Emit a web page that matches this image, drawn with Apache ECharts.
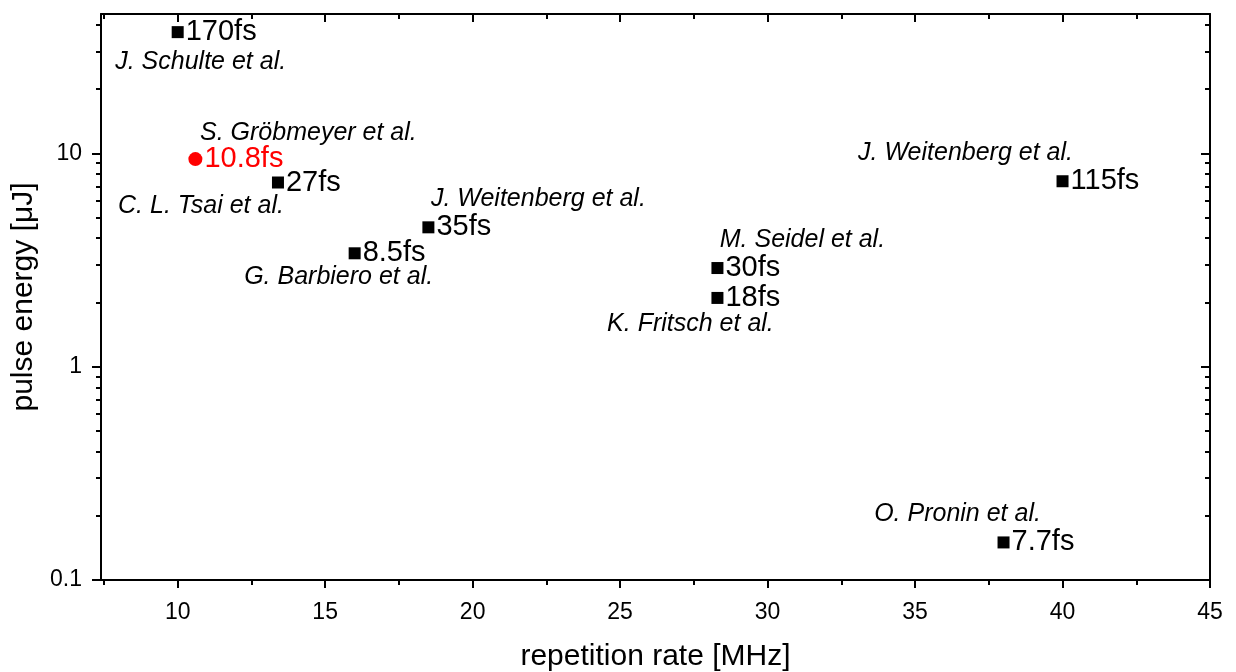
<!DOCTYPE html>
<html>
<head>
<meta charset="utf-8">
<script src="https://cdn.jsdelivr.net/npm/echarts@6/dist/echarts.min.js"></script>
<style>
  html, body { margin: 0; padding: 0; background: #fff; }
  #chart { width: 1236px; height: 672px; }
</style>
</head>
<body>
<div id="chart"></div>
<script>
// Published few-cycle / femtosecond sources: repetition rate vs. pulse energy
const repRate = [10, 13.4, 16, 18.5, 28.3, 28.3, 40, 38];          // MHz
const pulseEnergy = [37, 7.3, 3.4, 4.5, 2.9, 2.1, 7.4, 0.15];      // µJ
const pulseDuration = ['170fs', '27fs', '8.5fs', '35fs', '30fs', '18fs', '115fs', '7.7fs'];
const authors = ['J. Schulte et al.', 'C. L. Tsai et al.', 'G. Barbiero et al.', 'J. Weitenberg et al.',
                 'M. Seidel et al.', 'K. Fritsch et al.', 'J. Weitenberg et al.', 'O. Pronin et al.'];

// This work
const ownRepRate = [10.6];
const ownEnergy = [9.4];
const ownDuration = ['10.8fs'];
const ownAuthor = ['S. Gröbmeyer et al.'];

// Axis ticks
const xMajorTicks = [10, 15, 20, 25, 30, 35, 40, 45];
const xMinorTicks = [7.5, 12.5, 17.5, 22.5, 27.5, 32.5, 37.5, 42.5];
const yMajorTicks = [0.1, 1, 10];
const yMinorTicks = [0.2, 0.3, 0.4, 0.5, 0.6, 0.7, 0.8, 0.9, 2, 3, 4, 5, 6, 7, 8, 9, 20, 30, 40];

// Author caption placement (pixel offset of the caption centre from its point)
const authorOffsets = [[23, 30], [-77, 24], [-16, 24], [110, -28], [85, -28], [-27, 26], [-97, -28], [-46, -28]];
const ownAuthorOffset = [113, -26];

const FONT = '"Liberation Sans", Arial, sans-serif';
const X_RANGE = { min: 7.4, max: 45 };
const Y_RANGE = { min: 0.1, max: 45 };

function xAxisDef(pos, ticks, len, inside, main) {
  return {
    type: 'value', position: pos, ...X_RANGE,
    splitLine: { show: false },
    axisLine: { show: main, lineStyle: { color: '#000', width: 2 } },
    axisTick: { show: true, customValues: ticks, length: len, inside: inside, lineStyle: { color: '#000', width: 2 } },
    axisLabel: main && pos === 'bottom'
      ? { show: true, customValues: xMajorTicks, margin: 21, color: '#000', fontSize: 23, fontFamily: FONT }
      : { show: false },
    name: main && pos === 'bottom' ? 'repetition rate [MHz]' : '',
    nameLocation: 'middle', nameGap: 62,
    nameTextStyle: { color: '#000', fontSize: 30, fontFamily: FONT }
  };
}
function yAxisDef(pos, ticks, len, inside, main) {
  return {
    type: 'log', logBase: 10, position: pos, ...Y_RANGE,
    splitLine: { show: false },
    axisLine: { show: main, lineStyle: { color: '#000', width: 2 } },
    axisTick: { show: true, customValues: ticks, length: len, inside: inside, lineStyle: { color: '#000', width: 2 } },
    axisLabel: main && pos === 'left'
      ? { show: true, customValues: yMajorTicks, margin: 19, color: '#000', fontSize: 23, fontFamily: FONT,
          formatter: v => String(v) }
      : { show: false },
    name: main && pos === 'left' ? 'pulse energy [μJ]' : '',
    nameLocation: 'middle', nameGap: 56,
    nameTextStyle: { color: '#000', fontSize: 30, fontFamily: FONT }
  };
}

const refPoints = repRate.map((x, i) => [x, pulseEnergy[i], pulseDuration[i], authors[i]]);
const ownPoints = ownRepRate.map((x, i) => [x, ownEnergy[i], ownDuration[i], ownAuthor[i]]);

const valueLabel = color => ({
  show: true, position: 'right', distance: 2,
  formatter: p => p.data[2],
  color: color, fontSize: 29, fontFamily: FONT
});

function captionSeries(points, offsets) {
  return {
    type: 'scatter', xAxisIndex: 0, yAxisIndex: 0,
    symbol: 'circle', symbolSize: 0.01, silent: true,
    itemStyle: { color: 'rgba(255,255,255,0)', opacity: 1 },
    data: points.map((p, i) => ({
      value: p,
      label: {
        show: true, position: 'inside', offset: offsets[i],
        formatter: d => d.data.value[3],
        color: '#000', fontSize: 25, fontStyle: 'italic', fontFamily: FONT,
        align: 'center', verticalAlign: 'middle'
      }
    }))
  };
}

const chart = echarts.init(document.getElementById('chart'));
chart.setOption({
  animation: false,
  backgroundColor: '#fff',
  grid: { left: 101, right: 26, top: 14, bottom: 92, containLabel: false, outerBoundsMode: 'none' },
  xAxis: [
    xAxisDef('bottom', xMajorTicks, 8, false, true),
    xAxisDef('bottom', xMinorTicks, 5, false, false),
    xAxisDef('top', xMajorTicks, 8, true, true),
    xAxisDef('top', xMinorTicks, 5, true, false)
  ],
  yAxis: [
    yAxisDef('left', yMajorTicks, 9, false, true),
    yAxisDef('left', yMinorTicks, 5, false, false),
    yAxisDef('right', yMajorTicks, 9, true, true),
    yAxisDef('right', yMinorTicks, 5, true, false)
  ],
  series: [
    {
      type: 'scatter', xAxisIndex: 0, yAxisIndex: 0,
      symbol: 'rect', symbolSize: 12,
      itemStyle: { color: '#000', opacity: 1 },
      label: valueLabel('#000'),
      data: refPoints
    },
    {
      type: 'scatter', xAxisIndex: 0, yAxisIndex: 0,
      symbol: 'circle', symbolSize: 14,
      itemStyle: { color: '#ff0000', opacity: 1 },
      label: valueLabel('#ff0000'),
      data: ownPoints
    },
    captionSeries(refPoints, authorOffsets),
    captionSeries(ownPoints, [ownAuthorOffset])
  ]
});
</script>
</body>
</html>
